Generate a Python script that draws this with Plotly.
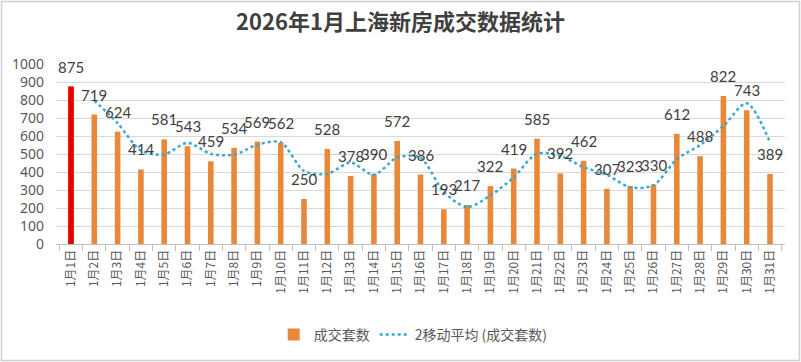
import plotly.graph_objects as go
import pandas as pd

days = [f"1月{d}日" for d in range(1, 32)]
deals = [875, 719, 624, 414, 581, 543, 459, 534, 569, 562, 250, 528, 378, 390, 572,
         386, 193, 217, 322, 419, 585, 392, 462, 307, 323, 330, 612, 488, 822, 743, 389]
highlight_days = days[:1]
highlight_vals = deals[:1]
title_text = "2026年1月上海新房成交数据统计"
bar_name = "成交套数"
ma_name = "2移动平均 (成交套数)"

ma2 = pd.Series(deals).rolling(2).mean().tolist()

fig = go.Figure()
fig.add_trace(go.Bar(x=days, y=deals, name=bar_name, marker_color="#E8883A",
                     marker_line_width=0))
fig.add_trace(go.Bar(x=highlight_days, y=highlight_vals, name=bar_name, marker_color="#E60000",
                     marker_line_width=0, showlegend=False))
fig.add_trace(go.Scatter(x=days, y=ma2, name=ma_name, mode="lines",
                         line=dict(color="#35A9D0", width=2.5, dash="dot", shape="spline", smoothing=0.8)))

for d, v in zip(days, deals):
    fig.add_annotation(x=d, y=v, text=str(v), showarrow=False, yanchor="bottom",
                       yshift=9, font=dict(family="Lato, sans-serif", size=15, color="#404040"))

fig.update_layout(
    width=801, height=362,
    margin=dict(l=56, r=16, t=64, b=118, autoexpand=False),
    paper_bgcolor="white", plot_bgcolor="white",
    barmode="overlay",
    title=dict(text=f"<b>{title_text}</b>", x=0.5, xanchor="center", y=1 - 22/362, yanchor="middle",
               font=dict(family="Noto Sans CJK SC, sans-serif", size=22, color="#404040")),
    bargap=0.76,
    legend=dict(orientation="h", x=0.49, xanchor="center", y=-91/180, yanchor="middle",
                font=dict(family="Noto Sans CJK SC, sans-serif", size=14, color="#595959")),
    showlegend=True,
)
fig.update_yaxes(range=[0, 1000], dtick=100, showgrid=True, gridcolor="#D9D9D9", gridwidth=1,
                 zeroline=False, showline=False, ticks="", automargin=False, ticklabelstandoff=11,
                 tickfont=dict(family="Noto Sans, sans-serif", size=14, color="#595959"))
fig.update_xaxes(showline=True, linecolor="#BFBFBF", linewidth=1, ticks="outside",
                 tickson="boundaries", ticklen=6, tickcolor="#BFBFBF", tickangle=-90, automargin=False,
                 tickfont=dict(family="Noto Sans CJK SC, sans-serif", size=12, color="#595959"))

# outer chart border
fig.add_shape(type="rect", xref="paper", yref="paper",
              x0=-54.5/729, x1=1 + 14.5/729, y0=-116.5/180, y1=1 + 62.5/180,
              line=dict(color="#D0D0D0", width=1.5), layer="below")

fig.write_html("out.html", post_script="document.body.style.margin='0';",
               config={"displayModeBar": False})
